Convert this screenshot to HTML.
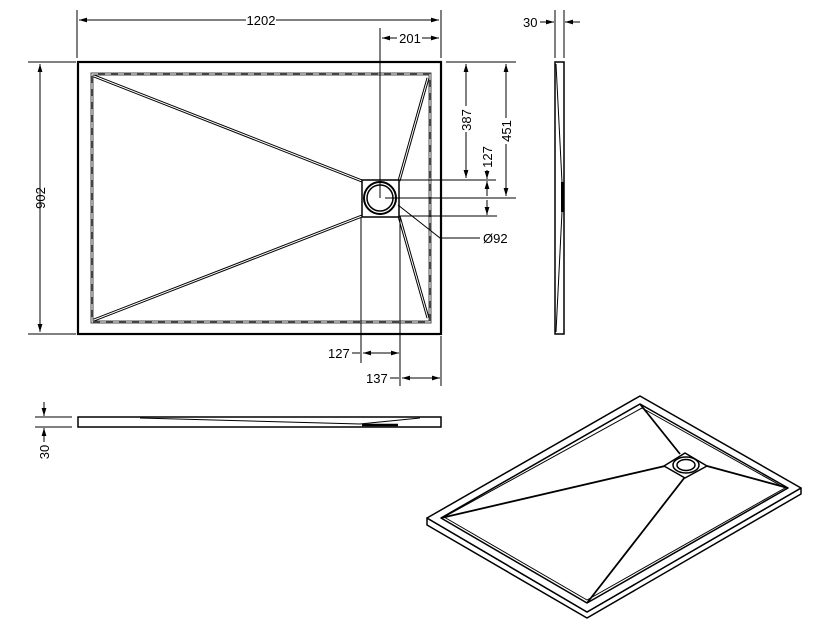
<!DOCTYPE html>
<html><head><style>html,body{margin:0;padding:0;background:#fff;}svg{display:block}</style></head>
<body>
<svg width="837" height="642" viewBox="0 0 837 642" xmlns="http://www.w3.org/2000/svg" font-family="Liberation Sans, DejaVu Sans, sans-serif" font-size="13" fill="none">
<defs>
<marker id="a" viewBox="0 0 10 6" refX="10" refY="3" markerWidth="8" markerHeight="5" orient="auto-start-reverse" markerUnits="userSpaceOnUse"><path d="M0,0L10,3L0,6z" fill="#000"/></marker>
</defs>
<!-- plan view -->
<rect x="78" y="62" width="363" height="272" stroke="#000" stroke-width="2.2"/>
<rect x="92" y="74" width="338" height="248" stroke="#444" stroke-width="3"/>
<rect x="92" y="74" width="338" height="248" stroke="#fff" stroke-width="1" stroke-dasharray="6,7"/>
<g stroke="#000" stroke-width="3"><path d="M94,76L362,181M94,320L362,216M428,78L399,181M428,318L399,216"/></g>
<g stroke="#fff" stroke-width="1"><path d="M94,76L362,181M94,320L362,216M428,78L399,181M428,318L399,216"/></g>
<rect x="362" y="180" width="37" height="37" fill="#fff" stroke="#000" stroke-width="1.5"/>
<circle cx="380" cy="198" r="16" stroke="#000" stroke-width="2" fill="#fff"/>
<circle cx="380" cy="198" r="13" stroke="#000" stroke-width="1.5"/>
<!-- dimensions -->
<g stroke="#000" stroke-width="1">
<path d="M77,10V58M441,10V58M380,28V198"/>
<path d="M79,20H439" marker-start="url(#a)" marker-end="url(#a)"/>
<path d="M382,38H439" marker-start="url(#a)" marker-end="url(#a)"/>
<path d="M28,62H76M28,334H76"/>
<path d="M40,64V332" marker-start="url(#a)" marker-end="url(#a)"/>
<path d="M446,62H516M399,180H496M385,198H516M399,216H497"/>
<path d="M466,64V178" marker-start="url(#a)" marker-end="url(#a)"/>
<path d="M506,64V196" marker-start="url(#a)" marker-end="url(#a)"/>
<path d="M487,170V179" marker-end="url(#a)"/>
<path d="M487,196V181" marker-end="url(#a)"/>
<path d="M487,200V215" marker-end="url(#a)"/>
<path d="M361,218V363M400,216V386M441,336V386"/>
<path d="M352,353H360" /><path d="M363,353H399" marker-start="url(#a)" marker-end="url(#a)"/>
<path d="M390,378H399"/><path d="M402,378H440" marker-start="url(#a)" marker-end="url(#a)"/>
<path d="M398,205L440,238H480"/>
<path d="M555,10V58M564,10V58"/>
<path d="M540,22H554" marker-end="url(#a)"/><path d="M580,22H565" marker-end="url(#a)"/>
<path d="M35,417H72M35,427H72"/>
<path d="M44,402V416" marker-end="url(#a)"/><path d="M44,442V428" marker-end="url(#a)"/>
</g>
<g fill="#000" stroke="none">
<rect x="246" y="12" width="30" height="16" fill="#fff"/>
<text x="261" y="25" text-anchor="middle">1202</text>
<rect x="397" y="30" width="25" height="16" fill="#fff"/>
<text x="410" y="43" text-anchor="middle">201</text>
<text transform="translate(45,198) rotate(-90)" text-anchor="middle" fill="#000">902</text>
<rect x="459" y="106" width="14" height="26" fill="#fff"/>
<text transform="translate(471,120) rotate(-90)" text-anchor="middle">387</text>
<rect x="499" y="118" width="14" height="26" fill="#fff"/>
<text transform="translate(511,131) rotate(-90)" text-anchor="middle">451</text>
<text transform="translate(492,157) rotate(-90)" text-anchor="middle">127</text>
<text x="483" y="243">Ø92</text>
<text x="328" y="358">127</text>
<text x="366" y="383">137</text>
<text x="523" y="27">30</text>
<text transform="translate(49,452) rotate(-90)" text-anchor="middle">30</text>
</g>
<!-- side view right -->
<rect x="555" y="62" width="9" height="272" stroke="#000" stroke-width="1.5"/>
<path d="M556,64L562,182M562,212L556,332" stroke="#000" stroke-width="1"/>
<rect x="561" y="182" width="2.5" height="30" fill="#000"/>
<!-- side view bottom -->
<rect x="78" y="417" width="363" height="10" stroke="#000" stroke-width="1.5"/>
<path d="M140,418L360,424L420,418" stroke="#000" stroke-width="1"/>
<path d="M362,425H398" stroke="#000" stroke-width="2.5"/>
<!-- iso view -->
<g stroke="#000" stroke-width="1.5" fill="#fff" stroke-linejoin="round">
<path d="M427,518V525L587,618L801,494V488L587,612Z"/>
<path d="M640,396L427,518L587,612L801,488Z"/>
<path d="M640,404L441,518L587,603L788,488Z"/>
<path d="M642,408L444,517L587,600L785,488Z" stroke-width="1"/>
<path d="M640,404L680,454M441,518L665,466M587,603L685,477M788,488L707,466" fill="none" stroke-width="1.8"/>
<path d="M685,453L707,466L685,478L664,466Z"/>
<ellipse cx="686" cy="465" rx="13" ry="8"/>
<ellipse cx="686" cy="465" rx="9" ry="5.5"/>
</g>
</svg>
</body></html>
